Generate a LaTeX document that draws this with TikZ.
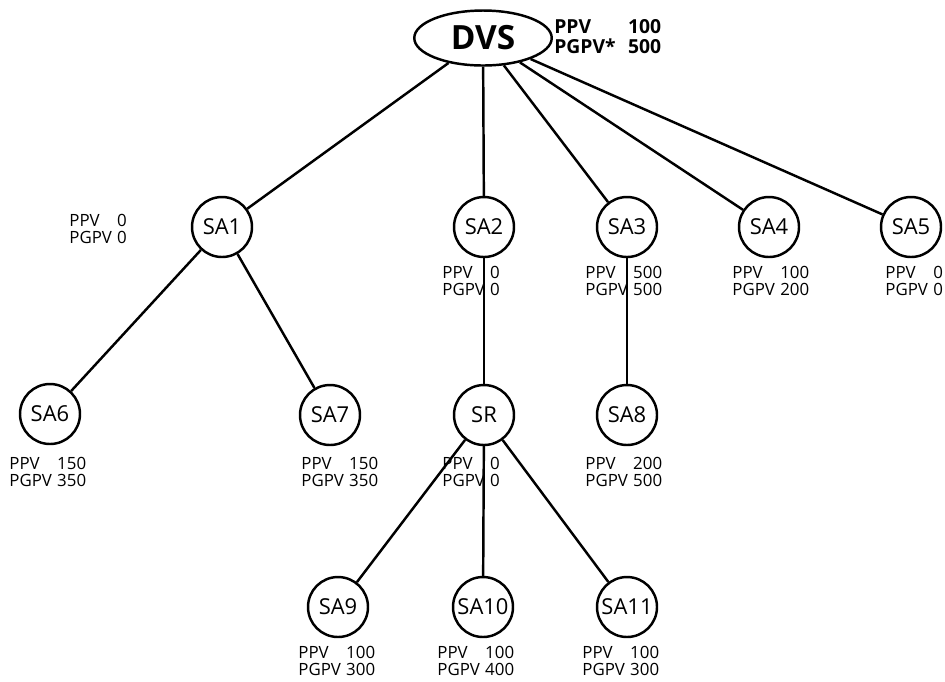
\documentclass[tikz,border=0pt]{standalone}
\usepackage{fontspec}
\setmainfont{Open Sans}
\setsansfont{Open Sans}
\usetikzlibrary{shapes.geometric}

% two rows of values under a site
\newcommand{\sitevals}[2]{\begin{tabular}{@{}l@{\hspace{3pt}}l@{}}PPV & #1\\ PGPV & #2\end{tabular}}

\begin{document}
\begin{tikzpicture}[x=0.02cm, y=-0.02cm,
    site/.style={draw, circle, line width=1.4pt, minimum size=1.2cm, inner sep=0pt,
                 font=\fontsize{12.5}{13}\selectfont},
    info/.style={anchor=north west, inner sep=0pt, font=\fontsize{9.6}{9.3}\selectfont},
    link/.style={line width=1.4pt}]
    \useasboundingbox (0,0) rectangle (945,681);

    % Draw the root
    \node [ellipse, draw, line width=1.4pt, minimum width=2.75cm, minimum height=1.1cm,
           font=\bfseries\fontsize{19}{20}\selectfont] (dvs) at (483,38) {DVS};
    \node [anchor=north west, inner sep=0pt, font=\bfseries\fontsize{11}{9.6}\selectfont] (dvsinfo) at (554,19)
        {\begin{tabular}{@{}l@{\hspace{7pt}}l@{}}PPV & 100\\ PGPV* & 500\end{tabular}};

    % Draw the sites
    \node [site] (sa1) at (222,227) {SA1};
    \node [site] (sa2) at (484,227) {SA2};
    \node [site] (sa3) at (627,227) {SA3};
    \node [site] (sa4) at (769,227) {SA4};
    \node [site] (sa5) at (911,227) {SA5};

    \node [site] (sa6) at (50,414) {SA6};
    \node [site] (sa7) at (330,415) {SA7};
    \node [site] (sr) at (484,415) {SR};
    \node [site] (sa8) at (627,415) {SA8};

    \node [site] (sa9) at (338,607) {SA9};
    \node [site] (sa10) at (483,607) {SA10};
    \node [site] (sa11) at (627,607) {SA11};

    % Draw the links
    \draw [link] (dvs) -- (sa1);
    \draw [link] (dvs) -- (sa2);
    \draw [link] (dvs) -- (sa3);
    \draw [link] (dvs) -- (sa4);
    \draw [link] (dvs) -- (sa5);
    \draw [link] (sa1) -- (sa6);
    \draw [link] (sa1) -- (sa7);
    \draw [link] (sa2) -- (sr);
    \draw [link] (sa3) -- (sa8);
    \draw [link] (sr) -- (sa9);
    \draw [link] (sr) -- (sa10);
    \draw [link] (sr) -- (sa11);

    % Draw the values
    \node [info] (v1) at (69,214) {\sitevals{0}{0}};
    \node [info] (v2) at (442,266) {\sitevals{0}{0}};
    \node [info] (v3) at (585,266) {\sitevals{500}{500}};
    \node [info] (v4) at (732,266) {\sitevals{100}{200}};
    \node [info] (v5) at (885,266) {\sitevals{0}{0}};

    \node [info] (v6) at (9,457) {\sitevals{150}{350}};
    \node [info] (v7) at (301,457) {\sitevals{150}{350}};
    \node [info] (vr) at (442,457) {\sitevals{0}{0}};
    \node [info] (v8) at (585,457) {\sitevals{200}{500}};

    \node [info] (v9) at (298,646) {\sitevals{100}{300}};
    \node [info] (v10) at (437,646) {\sitevals{100}{400}};
    \node [info] (v11) at (582,646) {\sitevals{100}{300}};
\end{tikzpicture}
\end{document}
